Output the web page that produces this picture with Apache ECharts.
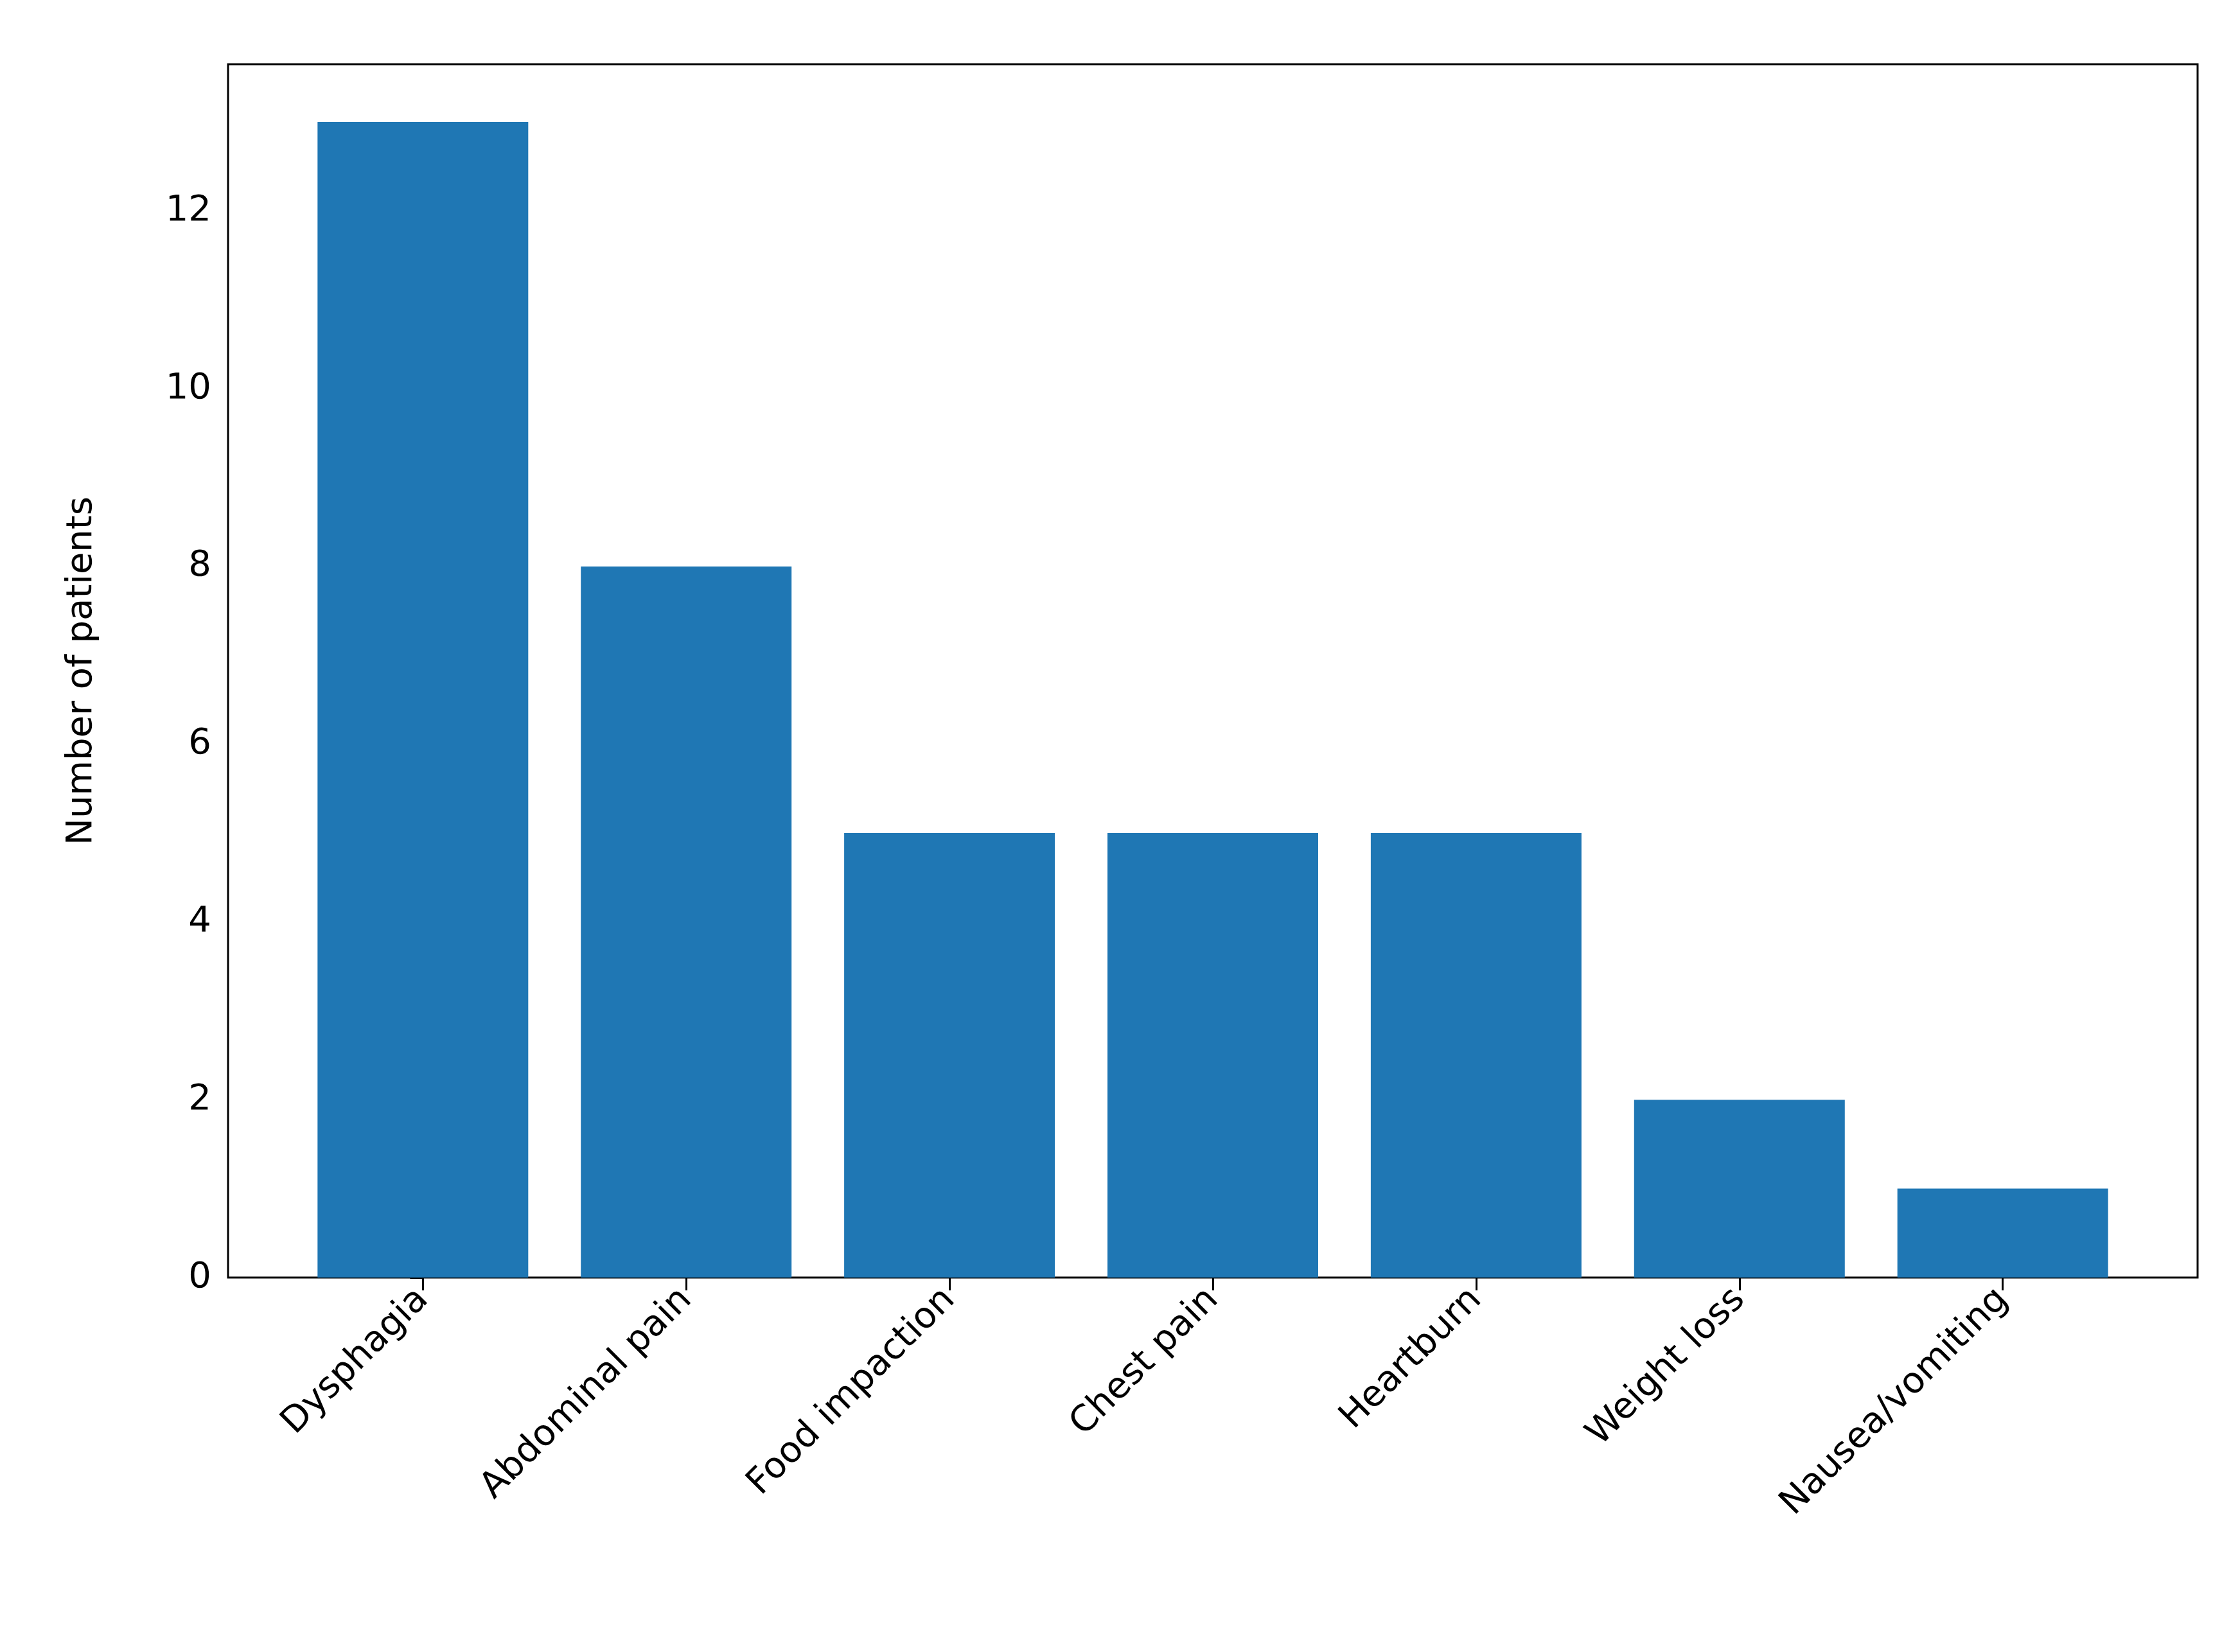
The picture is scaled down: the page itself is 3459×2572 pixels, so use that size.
<!DOCTYPE html>
<html><head><meta charset="utf-8">
<script src="https://cdn.jsdelivr.net/npm/echarts@6/dist/echarts.min.js"></script>
<style>html,body{margin:0;padding:0;background:#fff}#c{width:3459px;height:2572px}</style>
</head><body><div id="c"></div>
<script>
const categories = ["Dysphagia","Abdominal pain","Food impaction","Chest pain","Heartburn","Weight loss","Nausea/vomiting"];
const values = [13, 8, 5, 5, 5, 2, 1];
const yTicks = [0, 2, 4, 6, 8, 10, 12];
const chart = echarts.init(document.getElementById('c'));
const font = {fontFamily: 'DejaVu Sans', fontSize: 56, color: '#000'};
chart.setOption({
  animation: false,
  grid: {left: 355, right: 38, top: 100, bottom: 583, show: true, borderColor: '#000', borderWidth: 3, backgroundColor: 'transparent'},
  xAxis: {
    type: 'value', min: -0.74, max: 6.74,
    splitLine: {show: false},
    axisLine: {show: false},
    axisTick: {show: true, length: 20, lineStyle: {color: '#000', width: 3}, customValues: [0,1,2,3,4,5,6]},
    axisLabel: Object.assign({rotate: 45, margin: 26, customValues: [0,1,2,3,4,5,6],
      formatter: v => categories[Math.round(v)]}, font)
  },
  yAxis: {
    type: 'value', min: 0, max: 13.65,
    name: 'Number of patients', nameLocation: 'middle', nameGap: 200,
    nameTextStyle: font,
    splitLine: {show: false},
    axisLine: {show: false},
    axisTick: {show: true, length: 20, lineStyle: {color: '#000', width: 3}, customValues: yTicks},
    axisLabel: Object.assign({margin: 26, customValues: yTicks}, font)
  },
  series: [{
    type: 'bar', barWidth: 328,
    itemStyle: {color: '#1f77b4'},
    data: values.map((v, i) => [i, v])
  }]
});
</script></body></html>
